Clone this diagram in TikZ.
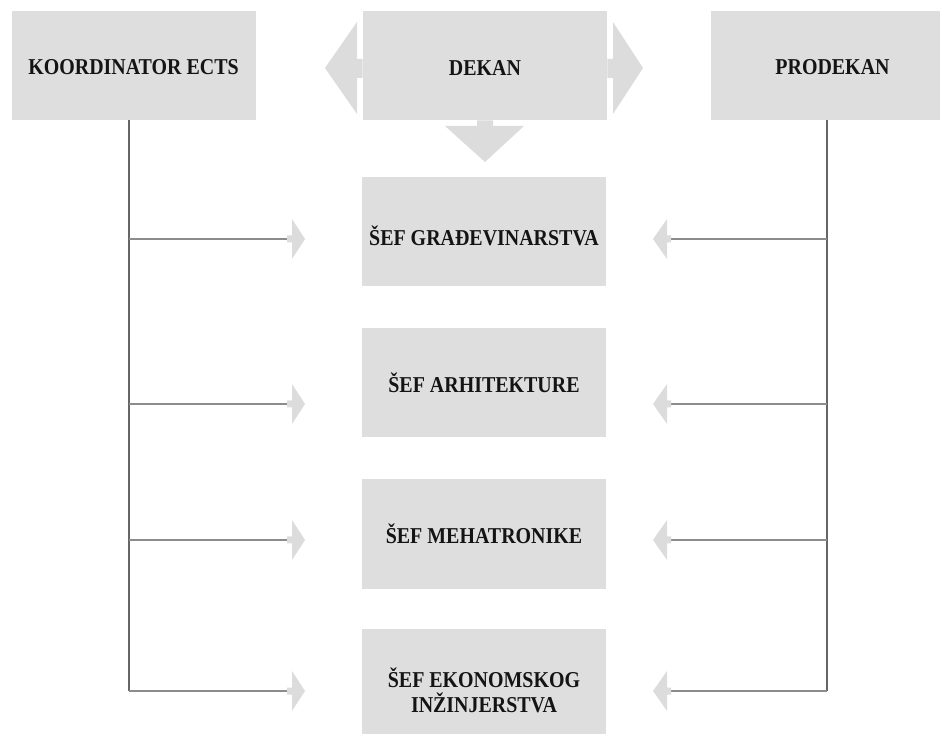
\documentclass[tikz,border=0pt]{standalone}
\usepackage{fontspec}
\setmainfont{Liberation Serif}[FakeStretch=0.88]
% lower a label inside its box without changing the box's size
\newcommand{\lowered}[2]{\raisebox{-#1}[\height][\depth]{#2}}
\begin{document}
\begin{tikzpicture}[x=0.75pt,y=-0.75pt]
  \definecolor{boxgray}{HTML}{DEDEDE}
  \definecolor{arrowgray}{HTML}{DCDCDC}
  \definecolor{trunkgray}{HTML}{666666}
  \definecolor{branchgray}{HTML}{8C8C8C}
  \definecolor{inkblack}{HTML}{141414}
  \tikzset{
    unit/.style={fill=boxgray, draw=none, minimum width=183pt, minimum height=82pt,
      inner sep=0pt, align=center, text=inkblack, font=\fontsize{17}{20}\selectfont\bfseries},
    trunk/.style={draw=trunkgray, line width=0.8pt},
    branch/.style={draw=branchgray, line width=0.8pt},
    fatarrow/.style={fill=arrowgray, draw=none},
    % small block arrowheads, anchored at the end of their line
    headR/.pic={\fill[fatarrow] (0,-3.5) -- (5,-3.5) -- (5,-20) -- (18,0) -- (5,20) -- (5,3.5) -- (0,3.5) -- cycle;},
    headL/.pic={\fill[fatarrow] (0,-3.5) -- (-4,-3.5) -- (-4,-20) -- (-18,0) -- (-4,20) -- (-4,3.5) -- (0,3.5) -- cycle;}
  }
  \useasboundingbox (0,0) rectangle (940,734);
  \clip (0,0) rectangle (940,734);

  % top row
  \node[unit] (koord) at (133.5,65.5) {\lowered{1.5pt}{KOORDINATOR ECTS}};
  \node[unit] (dekan) at (485,65.5) {\lowered{2pt}{DEKAN}};
  \node[unit] (prodekan) at (832.5,65.5) {\lowered{1.5pt}{PRODEKAN}};

  % departments
  \node[unit] (gradj) at (484,231.5) {\lowered{3pt}{ŠEF GRAĐEVINARSTVA}};
  \node[unit] (arh) at (484,382.5) {ŠEF ARHITEKTURE};
  \node[unit] (meh) at (484,534) {ŠEF MEHATRONIKE};
  \node[unit] (eko) at (484,683.5) {\lowered{5pt}{\shortstack{ŠEF EKONOMSKOG\\[0.5pt]INŽINJERSTVA}}};

  % block arrows around the dean's box
  \fill[fatarrow] (dekan.west |- 0,59) -- (357,59) -- (357,22) -- (325,68) -- (357,114)
    -- (357,78) -- (dekan.west |- 0,78) -- cycle;
  \fill[fatarrow] (dekan.east |- 0,59) -- (613,59) -- (613,22) -- (643,68) -- (613,114)
    -- (613,78) -- (dekan.east |- 0,78) -- cycle;
  \fill[fatarrow] (477,0 |- dekan.south) -- (477,126) -- (445,126) -- (485,162) -- (524,126)
    -- (493,126) -- (493,0 |- dekan.south) -- cycle;

  % coordinator trunk and branches
  \coordinate (kTop) at (129,0 |- koord.south);
  \coordinate (kB1) at (129,239);
  \coordinate (kB2) at (129,404);
  \coordinate (kB3) at (129,540);
  \coordinate (kB4) at (129,691);
  \coordinate (kE1) at (287,239);
  \coordinate (kE2) at (287,404);
  \coordinate (kE3) at (287,540);
  \coordinate (kE4) at (287,691);
  \draw[trunk] (kTop) -- (kB4);
  \foreach \i in {1,2,3,4} {
    \draw[branch] (kB\i) -- (kE\i);
    \pic at (kE\i) {headR};
  }

  % vice-dean trunk and branches
  \coordinate (pTop) at (827,0 |- prodekan.south);
  \coordinate (pB1) at (827,239);
  \coordinate (pB2) at (827,404);
  \coordinate (pB3) at (827,540);
  \coordinate (pB4) at (827,691);
  \coordinate (pE1) at (671,239);
  \coordinate (pE2) at (671,404);
  \coordinate (pE3) at (671,540);
  \coordinate (pE4) at (671,691);
  \draw[trunk] (pTop) -- (pB4);
  \foreach \i in {1,2,3,4} {
    \draw[branch] (pB\i) -- (pE\i);
    \pic at (pE\i) {headL};
  }
\end{tikzpicture}
\end{document}
